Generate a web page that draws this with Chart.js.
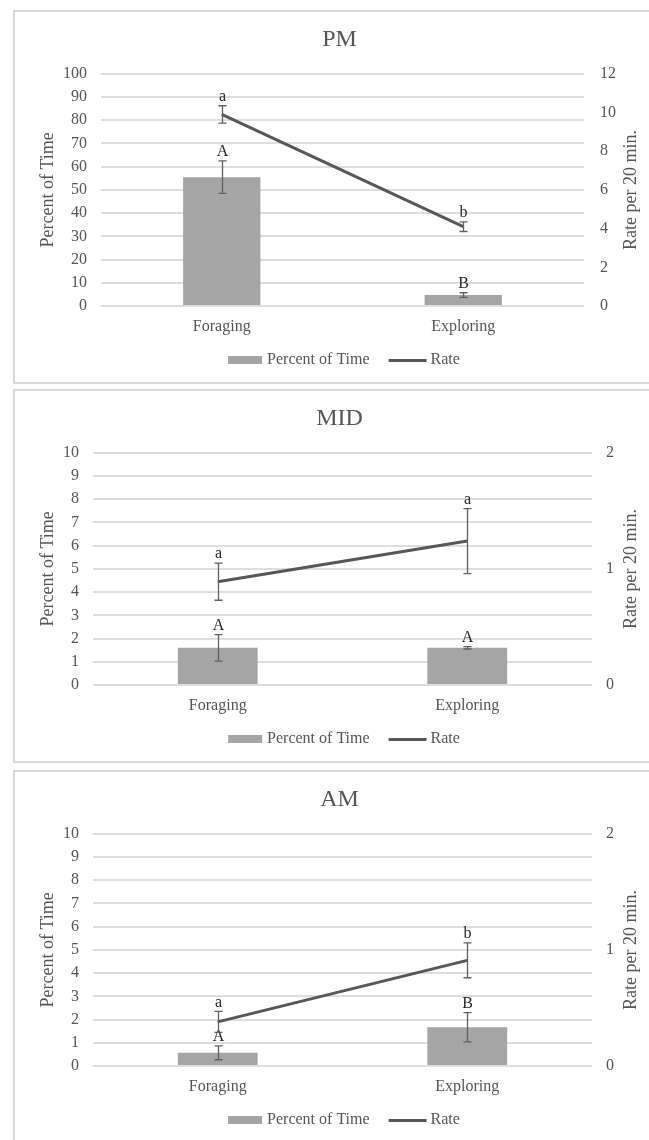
<!DOCTYPE html>
<html>
<head>
<meta charset="utf-8">
<script src="https://cdn.jsdelivr.net/npm/chart.js@4.4.0/dist/chart.umd.min.js"></script>
<style>
  html, body { margin: 0; padding: 0; background: #ffffff; }
  body { width: 649px; height: 1140px; overflow: hidden; position: relative; }
  .panel {
    position: absolute; left: 13px; width: 653px; height: 374px;
    box-sizing: border-box; border: 2px solid #d9d9d9; background: #ffffff;
  }
  .panel canvas { display: block; }
</style>
</head>
<body>
<div class="panel" style="top:10px"><canvas id="pmChart" width="649" height="370"></canvas></div>
<div class="panel" style="top:389px"><canvas id="midChart" width="649" height="370"></canvas></div>
<div class="panel" style="top:770px"><canvas id="amChart" width="649" height="370"></canvas></div>
<script>
// Behaviours compared in each time-of-day period
const categories = ['Foraging', 'Exploring'];

// PM period
const pmPercent = [55.5, 4.7];
const pmPercentErr = [7.0, 1.0];
const pmPercentLetters = ['A', 'B'];
const pmRate = [9.9, 4.1];
const pmRateErr = [0.45, 0.25];
const pmRateLetters = ['a', 'b'];

// MID period
const midPercent = [1.6, 1.6];
const midPercentErr = [0.57, 0.05];
const midPercentLetters = ['A', 'A'];
const midRate = [0.89, 1.24];
const midRateErr = [0.16, 0.28];
const midRateLetters = ['a', 'a'];

// AM period
const amPercent = [0.57, 1.67];
const amPercentErr = [0.3, 0.63];
const amPercentLetters = ['A', 'B'];
const amRate = [0.38, 0.91];
const amRateErr = [0.09, 0.15];
const amRateLetters = ['a', 'b'];

// Axis ranges and tick steps
const pmPercentTicks = { min: 0, max: 100, step: 10 };
const pmRateTicks = { min: 0, max: 12, step: 2 };
const smallPercentTicks = { min: 0, max: 10, step: 1 };
const smallRateTicks = { min: 0, max: 2, step: 1 };

const TEXT_GRAY = '#555555';
const BAR_GRAY = '#a5a5a5';
const LINE_GRAY = '#575757';
const GRID_GRAY = '#dedede';
const SERIF = "'Liberation Serif', 'Times New Roman', serif";

Chart.defaults.font.family = SERIF;
Chart.defaults.color = TEXT_GRAY;

// Legend symbols: a flat bar swatch and a short thick line, placed
// inside a transparent strip so they sit close to their labels
function swatch(stripW, x0, w, h, color) {
  const c = document.createElement('canvas');
  c.width = stripW; c.height = h;
  const g = c.getContext('2d');
  g.fillStyle = color;
  g.fillRect(x0, 0, w, h);
  return c;
}
const legendSymbols = [swatch(56, 17, 34, 8, BAR_GRAY), swatch(56, 14, 38, 3, LINE_GRAY)];

// Error bars, significance letters and the right-hand axis title
const annotate = {
  id: 'annotate',
  afterDatasetsDraw(chart) {
    const ctx = chart.ctx;
    chart.data.datasets.forEach((ds, i) => {
      if (!ds.errors) return;
      const meta = chart.getDatasetMeta(i);
      const ys = chart.scales[ds.yAxisID];
      meta.data.forEach((el, j) => {
        const v = ds.data[j];
        const e = ds.errors[j];
        const x = Math.round(el.x) + 0.5;
        const yTop = ys.getPixelForValue(v + e);
        const yBot = ys.getPixelForValue(v - e);
        ctx.save();
        ctx.strokeStyle = '#606060';
        ctx.lineWidth = 1.3;
        ctx.beginPath();
        ctx.moveTo(x, yTop); ctx.lineTo(x, yBot);
        ctx.moveTo(x - 4, yTop); ctx.lineTo(x + 4, yTop);
        ctx.moveTo(x - 4, yBot); ctx.lineTo(x + 4, yBot);
        ctx.stroke();
        ctx.fillStyle = '#262626';
        ctx.font = '16px ' + SERIF;
        ctx.textAlign = 'center';
        ctx.textBaseline = 'middle';
        ctx.fillText(ds.letters[j], x, yTop - 9);
        ctx.restore();
      });
    });
  },
  afterDraw(chart) {
    const opts = chart.options.plugins.annotate;
    const s = chart.scales.y2;
    const area = chart.chartArea;
    const ctx = chart.ctx;
    ctx.save();
    ctx.translate(s.right - 33, (area.top + area.bottom) / 2);
    ctx.rotate(-Math.PI / 2);
    ctx.font = '18px ' + SERIF;
    ctx.fillStyle = TEXT_GRAY;
    ctx.textAlign = 'center';
    ctx.textBaseline = 'middle';
    ctx.fillText(opts.rightTitle, 0, 0);
    ctx.restore();
  }
};

function buildChart(id, title, s, frame) {
  return new Chart(document.getElementById(id), {
    type: 'bar',
    data: {
      labels: categories,
      datasets: [
        {
          label: 'Percent of Time', data: s.percent, errors: s.percentErr, letters: s.percentLetters,
          yAxisID: 'y', backgroundColor: BAR_GRAY, barPercentage: 0.32, categoryPercentage: 1, order: 2
        },
        {
          type: 'line', label: 'Rate', data: s.rate, errors: s.rateErr, letters: s.rateLetters,
          yAxisID: 'y2', borderColor: LINE_GRAY, backgroundColor: LINE_GRAY, borderWidth: 3,
          pointRadius: 0, tension: 0, order: 1
        }
      ]
    },
    options: {
      responsive: false,
      animation: false,
      devicePixelRatio: 1,
      layout: { padding: { left: 0, right: 0, top: 0, bottom: 4 } },
      scales: {
        x: {
          grid: { display: false },
          border: { display: false },
          ticks: { font: { size: 16 }, color: TEXT_GRAY, padding: 3 },
          afterFit(scale) { scale.height = 33; }
        },
        y: {
          position: 'left',
          min: s.percentTicks.min, max: s.percentTicks.max,
          ticks: { stepSize: s.percentTicks.step, font: { size: 16 }, color: TEXT_GRAY, padding: frame.leftPad },
          grid: { color: GRID_GRAY, lineWidth: 2, drawTicks: false },
          border: { display: false },
          title: { display: true, text: 'Percent of Time', font: { size: 18 }, color: TEXT_GRAY, padding: { top: 22, bottom: 0 } },
          afterFit(scale) { scale.width = frame.leftWidth; }
        },
        y2: {
          position: 'right',
          min: s.rateTicks.min, max: s.rateTicks.max,
          ticks: { stepSize: s.rateTicks.step, font: { size: 16 }, color: TEXT_GRAY, padding: frame.rightPad },
          grid: { display: false, drawTicks: false },
          border: { display: false },
          afterFit(scale) { scale.width = frame.rightWidth; }
        }
      },
      plugins: {
        title: {
          display: true, text: title, color: TEXT_GRAY,
          font: { size: 24, weight: 'normal' },
          padding: { top: 13, bottom: 20 }
        },
        legend: {
          position: 'bottom',
          labels: {
            usePointStyle: true, pointStyleWidth: 40, padding: 13,
            font: { size: 16 }, color: TEXT_GRAY,
            sort: (a, b) => a.datasetIndex - b.datasetIndex,
            generateLabels(chart) {
              const items = Chart.defaults.plugins.legend.labels.generateLabels(chart);
              items.forEach((it) => { it.pointStyle = legendSymbols[it.datasetIndex]; it.rotation = 0; });
              return items;
            }
          }
        },
        tooltip: { enabled: false },
        annotate: { rightTitle: 'Rate per 20 min.' }
      }
    },
    plugins: [annotate]
  });
}

buildChart('pmChart', 'PM', {
  percent: pmPercent, percentErr: pmPercentErr, percentLetters: pmPercentLetters,
  rate: pmRate, rateErr: pmRateErr, rateLetters: pmRateLetters,
  percentTicks: pmPercentTicks, rateTicks: pmRateTicks
}, { leftWidth: 86, rightWidth: 80, leftPad: 14, rightPad: 16 });

buildChart('midChart', 'MID', {
  percent: midPercent, percentErr: midPercentErr, percentLetters: midPercentLetters,
  rate: midRate, rateErr: midRateErr, rateLetters: midRateLetters,
  percentTicks: smallPercentTicks, rateTicks: smallRateTicks
}, { leftWidth: 78, rightWidth: 72, leftPad: 14, rightPad: 14 });

buildChart('amChart', 'AM', {
  percent: amPercent, percentErr: amPercentErr, percentLetters: amPercentLetters,
  rate: amRate, rateErr: amRateErr, rateLetters: amRateLetters,
  percentTicks: smallPercentTicks, rateTicks: smallRateTicks
}, { leftWidth: 78, rightWidth: 72, leftPad: 14, rightPad: 14 });
</script>
</body>
</html>
